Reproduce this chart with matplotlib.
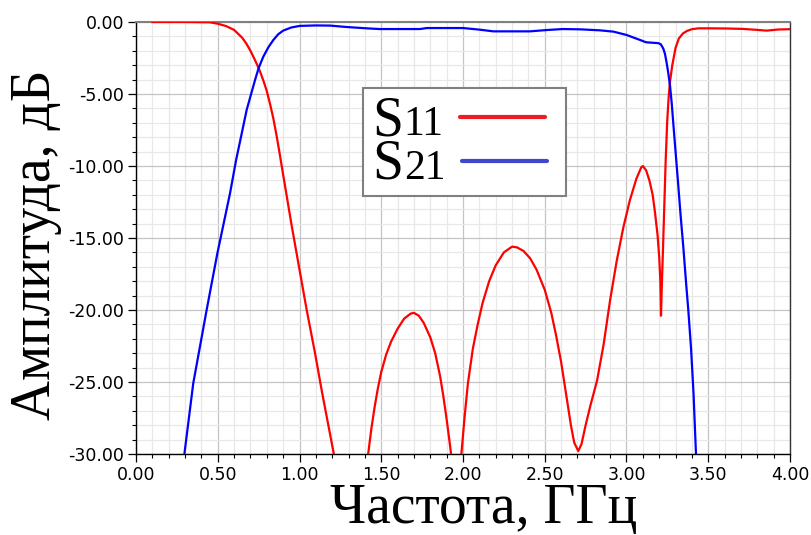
import matplotlib
matplotlib.use("Agg")
import matplotlib.pyplot as plt
from matplotlib.lines import Line2D
from matplotlib.offsetbox import AnchoredOffsetbox, DrawingArea, HPacker, TextArea, VPacker
from matplotlib.ticker import FormatStrFormatter, MultipleLocator

# --- данные ---
s11_freq = [0.10, 0.30, 0.45, 0.50, 0.55, 0.60, 0.65, 0.675, 0.70, 0.73, 0.754, 0.78,
            0.80, 0.82, 0.84, 0.86, 0.875, 0.90, 0.95, 1.00, 1.044, 1.095, 1.136, 1.21,
            1.25, 1.31, 1.39, 1.42, 1.44, 1.46, 1.48, 1.50, 1.53, 1.56, 1.60, 1.64,
            1.68, 1.70, 1.73, 1.76, 1.80, 1.83, 1.86, 1.88, 1.90, 1.915, 1.927,
            1.95, 1.97, 1.99, 2.01, 2.03, 2.06, 2.09, 2.12, 2.16, 2.20, 2.25, 2.30,
            2.33, 2.37, 2.41, 2.45, 2.50, 2.54, 2.57, 2.60, 2.63, 2.66, 2.68, 2.705,
            2.725, 2.75, 2.78, 2.82, 2.86, 2.90, 2.94, 2.98, 3.02, 3.06, 3.09, 3.10,
            3.12, 3.14, 3.16, 3.174, 3.19, 3.20, 3.207, 3.211, 3.216, 3.222, 3.23,
            3.24, 3.249, 3.258, 3.266, 3.28, 3.30, 3.32, 3.345, 3.37, 3.40, 3.44,
            3.51, 3.60, 3.714, 3.80, 3.857, 3.93, 4.00]
s11_db = [0.00, 0.00, -0.02, -0.12, -0.28, -0.55, -1.1, -1.5, -2.0, -2.7, -3.3, -4.1,
          -4.8, -5.7, -6.7, -7.9, -8.9, -10.6, -14.0, -17.2, -20.0, -23.0, -25.6, -30.0,
          -32.5, -40.0, -32.2, -30.0, -28.2, -26.7, -25.4, -24.3, -23.1, -22.2, -21.3, -20.6,
          -20.25, -20.2, -20.4, -20.9, -21.9, -23.0, -24.6, -26.0, -27.6, -28.9, -30.0,
          -35.0, -35.0, -30.0, -27.4, -25.1, -22.7, -21.0, -19.5, -18.0, -16.9, -16.0, -15.6,
          -15.65, -15.9, -16.4, -17.2, -18.6, -20.2, -21.8, -23.6, -25.8, -28.0, -29.2, -29.8,
          -29.3, -28.0, -26.6, -24.9, -22.4, -19.3, -16.6, -14.3, -12.4, -10.9, -10.1, -10.0,
          -10.3, -11.0, -12.0, -13.2, -14.8, -16.3, -18.0, -20.4, -18.3, -16.2, -13.2,
          -9.5, -6.9, -5.2, -4.15, -3.0, -1.8, -1.15, -0.8, -0.62, -0.5, -0.44,
          -0.44, -0.45, -0.48, -0.55, -0.6, -0.52, -0.5]

s21_freq = [0.25, 0.296, 0.35, 0.432, 0.497, 0.575, 0.612, 0.677, 0.728, 0.75, 0.779,
            0.81, 0.84, 0.87, 0.90, 0.95, 1.003, 1.10, 1.187, 1.29, 1.41, 1.49, 1.737,
            1.778, 2.00, 2.10, 2.185, 2.41, 2.51, 2.61, 2.716, 2.838, 2.92, 3.00, 3.083,
            3.12, 3.195, 3.21, 3.225, 3.235, 3.245, 3.255, 3.266, 3.277, 3.287, 3.30,
            3.315, 3.33, 3.348, 3.365, 3.378, 3.395, 3.41, 3.425, 3.46]
s21_db = [-34.0, -30.0, -25.1, -20.0, -16.1, -11.9, -9.6, -6.1, -4.03, -3.2, -2.4,
          -1.75, -1.25, -0.85, -0.6, -0.38, -0.27, -0.24, -0.25, -0.35, -0.44, -0.49, -0.49,
          -0.42, -0.42, -0.53, -0.65, -0.65, -0.56, -0.49, -0.51, -0.58, -0.67, -0.9, -1.25,
          -1.41, -1.47, -1.55, -1.85, -2.2, -2.8, -3.5, -4.4, -5.7, -7.15, -9.0,
          -11.1, -13.3, -15.7, -18.2, -20.0, -22.7, -25.8, -30.0, -34.0]

x_ticks = [0.0, 0.5, 1.0, 1.5, 2.0, 2.5, 3.0, 3.5, 4.0]
y_ticks = [0, -5, -10, -15, -20, -25, -30]

fig = plt.figure(figsize=(8.11, 5.35), dpi=100)
ax = fig.add_axes([0.1677, 0.1514, 0.8064, 0.8075])

ax.plot(s11_freq, s11_db, color="#ff0000", lw=1.6, zorder=3)
ax.plot(s21_freq, s21_db, color="#0000ff", lw=1.6, zorder=3)

ax.set_xlim(0, 4)
ax.set_ylim(-30, 0)
ax.set_xticks(x_ticks)
ax.set_yticks(y_ticks)
ax.xaxis.set_minor_locator(MultipleLocator(0.1))
ax.yaxis.set_minor_locator(MultipleLocator(1))
ax.xaxis.set_major_formatter(FormatStrFormatter("%.2f"))
ax.yaxis.set_major_formatter(FormatStrFormatter("%.2f"))

ax.grid(which="major", color="#c4c4c4", lw=0.9, zorder=0)
ax.grid(which="minor", color="#e8e8e8", lw=0.9, zorder=0)
ax.set_axisbelow(True)

ax.tick_params(which="both", direction="out", colors="black", top=False, right=False)
ax.tick_params(which="major", length=6, width=0.9, labelsize=12.5, pad=2.5)
ax.tick_params(which="minor", length=3, width=0.8)
for lab in ax.get_xticklabels() + ax.get_yticklabels():
    lab.set_family("DejaVu Sans")

for side in ("left", "bottom"):
    ax.spines[side].set_color("black")
    ax.spines[side].set_linewidth(1.0)
ax.spines["top"].set_color("#808080")
ax.spines["top"].set_linewidth(1.5)
ax.spines["right"].set_color("#333333")
ax.spines["right"].set_linewidth(1.0)

ax.set_xlabel("Частота, ГГц", family="Liberation Serif", fontsize=40)
ax.set_ylabel("Амплитуда, дБ", family="Liberation Serif", fontsize=40)
ax.xaxis.set_label_coords(0.531, -0.068)
ax.yaxis.set_label_coords(-0.113, 0.484)


# легенда: крупная S и цифры помельче на одной базовой линии
def legend_row(sub, color):
    lead = DrawingArea(7, 1, 0, 0)
    s = TextArea("S", textprops=dict(family="Liberation Serif", size=40, color="black"))
    n = TextArea(sub, textprops=dict(family="Liberation Serif", size=30, color="black"))
    key = DrawingArea(87, 20, 0, 0)
    key.add_artist(Line2D([12, 73], [13, 13], color=color, lw=3, solid_capstyle="round"))
    return HPacker(children=[lead, s, n, key], align="baseline", pad=0, sep=0)


inner = VPacker(children=[legend_row("11", "#ed1c24"), legend_row("21", "#3f48cc")],
                align="left", pad=0, sep=-6)
rows = VPacker(children=[DrawingArea(1, 5, 0, 0), inner, DrawingArea(1, 3.6, 0, 0)],
               align="left", pad=0, sep=0)
box = AnchoredOffsetbox(loc="upper left", child=rows, pad=0, borderpad=0, frameon=True,
                        bbox_to_anchor=(0.347, 0.847), bbox_transform=ax.transAxes)
box.patch.set_edgecolor("#808080")
box.patch.set_linewidth(1.5)
box.patch.set_facecolor("white")
ax.add_artist(box)

fig.savefig("out.png", dpi=100)
